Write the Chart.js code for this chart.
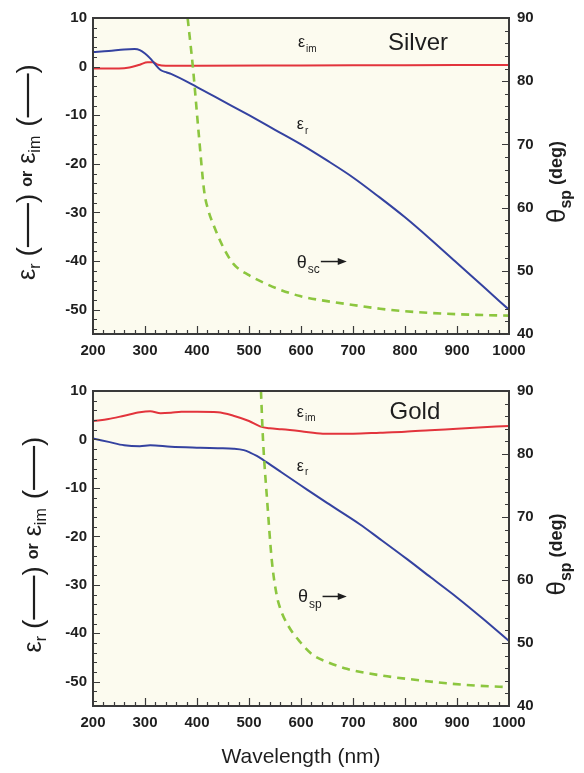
<!DOCTYPE html>
<html>
<head>
<meta charset="utf-8">
<script src="https://cdn.jsdelivr.net/npm/chart.js@4.4.1/dist/chart.umd.min.js"></script>
<style>
  body { margin: 0; background: #fff; }
  canvas { position: absolute; left: 0; }
  #silverChart { top: 0; }
  #goldChart { top: 370px; }
</style>
</head>
<body>
<canvas id="silverChart" width="584" height="370"></canvas>
<canvas id="goldChart" width="584" height="403"></canvas>
<script>
// tick labels
const wlTicks = [200, 300, 400, 500, 600, 700, 800, 900, 1000];
const epsTicks = [10, 0, -10, -20, -30, -40, -50];
const thetaTicks = [40, 50, 60, 70, 80, 90];

// Silver
const silverErWl = [200, 230, 260, 280, 290, 300, 310, 320, 330, 342, 350, 400, 450, 500, 550, 600, 650, 700, 750, 800, 850, 900, 950, 1000];
const silverEr = [3.0, 3.2, 3.5, 3.6, 3.4, 2.7, 1.7, 0.4, -0.7, -1.2, -1.5, -4.2, -7.1, -10.0, -13.0, -16.0, -19.3, -22.8, -26.8, -31.0, -35.6, -40.4, -45.2, -50.0];
const silverEimWl = [200, 250, 270, 290, 305, 315, 325, 340, 400, 600, 800, 1000];
const silverEim = [-0.4, -0.4, -0.2, 0.4, 0.9, 0.9, 0.4, 0.2, 0.2, 0.25, 0.3, 0.35];
const silverThetaWl = [382, 392, 403, 414, 422, 431, 450, 470, 500, 534, 560, 598, 650, 700, 752, 800, 880, 950, 1000];
const silverTheta = [90, 82.3, 72, 62.5, 59.5, 57.4, 53.8, 51.1, 49.3, 47.9, 47, 46, 45.2, 44.6, 44, 43.6, 43.2, 43, 42.9];

// Gold
const goldErWl = [200, 230, 260, 290, 310, 350, 406, 440, 470, 490, 502, 515, 527, 560, 600, 650, 713, 750, 804, 850, 900, 950, 1000];
const goldEr = [0.2, -0.5, -1.2, -1.4, -1.2, -1.5, -1.7, -1.8, -1.9, -2.2, -2.7, -3.4, -4.2, -6.6, -9.5, -13.1, -17.5, -20.4, -24.7, -28.5, -32.6, -37.0, -41.6];
const goldEimWl = [200, 230, 260, 290, 310, 330, 350, 370, 400, 440, 470, 500, 521, 540, 563, 600, 642, 700, 752, 800, 848, 900, 950, 1000];
const goldEim = [3.8, 4.2, 4.9, 5.6, 5.8, 5.4, 5.5, 5.7, 5.7, 5.6, 4.9, 3.8, 2.7, 2.3, 2.1, 1.7, 1.2, 1.2, 1.4, 1.6, 1.9, 2.2, 2.5, 2.8];
const goldThetaWl = [523, 527, 535, 544, 553, 560, 575, 598, 623, 650, 688, 750, 815, 880, 944, 1000];
const goldTheta = [90, 82.2, 72.5, 63, 57.7, 55.5, 52.8, 50.2, 48.1, 47, 45.9, 44.9, 44.2, 43.6, 43.2, 43.0];

const FONT = '"Liberation Sans", Arial, sans-serif';
const INK = '#1e1e1e';
const AXIS = '#3a3a3a';
const RED = '#e2343c';
const BLUE = '#3442a0';
const GREEN = '#8cc63f';

function pts(xs, ys) {
  return xs.map((x, i) => ({ x: x, y: ys[i] }));
}

function drawSubText(ctx, x, y, main, sub, size, subSize, drop) {
  ctx.font = size + 'px ' + FONT;
  ctx.fillText(main, x, y);
  const w = ctx.measureText(main).width;
  ctx.font = subSize + 'px ' + FONT;
  ctx.fillText(sub, x + w + 1, y + drop);
  return w + 1 + ctx.measureText(sub).width;
}

// rotated left title: eps_r (---) or eps_im (---)
function drawLeftTitle(ctx, cx, cy) {
  ctx.save();
  ctx.translate(cx, cy);
  ctx.rotate(-Math.PI / 2);
  ctx.fillStyle = INK;
  ctx.strokeStyle = INK;
  ctx.textBaseline = 'middle';
  ctx.textAlign = 'left';
  const eps = '25px ' + FONT, sub = '16px ' + FONT, or = 'bold 16px ' + FONT, par = '28px ' + FONT;
  const lineLen = 44;
  ctx.font = eps; const we = ctx.measureText('ε').width;
  ctx.font = sub; const wr = ctx.measureText('r').width, wim = ctx.measureText('im').width;
  ctx.font = or; const wor = ctx.measureText('or').width;
  ctx.font = par; const wp = ctx.measureText('(').width;
  const wPar = wp * 2 + lineLen;
  const total = we + wr + 7 + wPar + 7 + wor + 7 + we + wim + 9 + wPar;
  let x = -total / 2;
  function paren() {
    ctx.font = par;
    ctx.fillText('(', x, 0);
    ctx.lineWidth = 2.2;
    ctx.beginPath();
    ctx.moveTo(x + wp, 0);
    ctx.lineTo(x + wp + lineLen, 0);
    ctx.stroke();
    ctx.fillText(')', x + wp + lineLen, 0);
    x += wPar;
  }
  ctx.font = eps; ctx.fillText('ε', x, 0); x += we;
  ctx.font = sub; ctx.fillText('r', x, 8); x += wr + 7;
  paren(); x += 7;
  ctx.font = or; ctx.fillText('or', x, 0); x += wor + 7;
  ctx.font = eps; ctx.fillText('ε', x, 0); x += we;
  ctx.font = sub; ctx.fillText('im', x, 8); x += wim + 9;
  paren();
  ctx.restore();
}

function drawRightTitle(ctx, cx, cy) {
  ctx.save();
  ctx.translate(cx, cy);
  ctx.rotate(-Math.PI / 2);
  ctx.fillStyle = INK;
  ctx.textBaseline = 'middle';
  ctx.textAlign = 'left';
  const th = '26px ' + FONT, sub = 'bold 16px ' + FONT, deg = 'bold 18px ' + FONT;
  ctx.font = th; const wt = ctx.measureText('θ').width;
  ctx.font = sub; const ws = ctx.measureText('sp').width;
  ctx.font = deg; const wd = ctx.measureText(' (deg)').width;
  let x = -(wt + ws + wd) / 2;
  ctx.font = th; ctx.fillText('θ', x, 0); x += wt;
  ctx.font = sub; ctx.fillText('sp', x, 9); x += ws;
  ctx.font = deg; ctx.fillText(' (deg)', x, -1);
  ctx.restore();
}

function framePlugin(opts) {
  return {
    id: 'frame',
    beforeDraw(chart) {
      const a = chart.chartArea, ctx = chart.ctx;
      ctx.save();
      ctx.fillStyle = '#fcfbef';
      ctx.fillRect(a.left, a.top, a.right - a.left, a.bottom - a.top);
      ctx.restore();
    },
    afterDraw(chart) {
      const a = chart.chartArea, ctx = chart.ctx;
      const sx = chart.scales.x, sy = chart.scales.y, sy2 = chart.scales.y2;
      ctx.save();
      ctx.strokeStyle = AXIS;
      ctx.lineWidth = 1.2;
      ctx.beginPath();
      // minor / major ticks pointing inward
      for (let v = -54; v <= 10; v += 2) {
        const y = Math.round(sy.getPixelForValue(v)) + 0.5;
        const len = v % 10 === 0 ? 7 : 4;
        ctx.moveTo(a.left, y); ctx.lineTo(a.left + len, y);
      }
      for (let v = 42; v <= 88; v += 2) {
        const y = Math.round(sy2.getPixelForValue(v)) + 0.5;
        const len = v % 10 === 0 ? 7 : 4;
        ctx.moveTo(a.right, y); ctx.lineTo(a.right - len, y);
      }
      for (let v = 220; v <= 980; v += 20) {
        const x = Math.round(sx.getPixelForValue(v)) + 0.5;
        const len = v % 100 === 0 ? 8 : 4;
        ctx.moveTo(x, a.bottom); ctx.lineTo(x, a.bottom - len);
      }
      ctx.stroke();
      ctx.lineWidth = 2;
      ctx.strokeRect(a.left, a.top, a.right - a.left, a.bottom - a.top);
      ctx.restore();

      // in-plot labels
      ctx.save();
      ctx.fillStyle = INK;
      ctx.textBaseline = 'middle';
      ctx.textAlign = 'left';
      const an = opts.labels;
      drawSubText(ctx, sx.getPixelForValue(an.eim[0]), sy.getPixelForValue(an.eim[1]), 'ε', 'im', 16, 10, 6);
      drawSubText(ctx, sx.getPixelForValue(an.er[0]), sy.getPixelForValue(an.er[1]), 'ε', 'r', 16, 10, 6);
      const tx = sx.getPixelForValue(an.theta[0]), ty = sy.getPixelForValue(an.theta[1]);
      const w = drawSubText(ctx, tx, ty, opts.thetaGlyph, opts.thetaSub, 18, 12, 7);
      const ax = sx.getPixelForValue(an.arrowEnd);
      ctx.strokeStyle = INK;
      ctx.lineWidth = 1.5;
      ctx.beginPath();
      ctx.moveTo(tx + w + 1, ty - 1); ctx.lineTo(ax - 6, ty - 1);
      ctx.stroke();
      ctx.beginPath();
      ctx.moveTo(ax, ty - 1); ctx.lineTo(ax - 9, ty - 4.5); ctx.lineTo(ax - 9, ty + 2.5);
      ctx.closePath(); ctx.fill();
      ctx.font = '24px ' + FONT;
      ctx.textAlign = 'center';
      ctx.fillText(opts.metal, sx.getPixelForValue(an.metal[0]), sy.getPixelForValue(an.metal[1]));
      ctx.restore();

      drawLeftTitle(ctx, opts.leftTitleX, (a.top + a.bottom) / 2 - 4);
      drawRightTitle(ctx, 558, (a.top + a.bottom) / 2 + 6);
      if (opts.xTitle) {
        ctx.save();
        ctx.fillStyle = INK;
        ctx.font = '21px ' + FONT;
        ctx.textAlign = 'center';
        ctx.textBaseline = 'middle';
        ctx.fillText(opts.xTitle, (a.left + a.right) / 2, a.bottom + 51);
        ctx.restore();
      }
    }
  };
}

function makeChart(id, d, opts) {
  const tickFont = { family: FONT, size: 15, weight: 'bold' };
  return new Chart(document.getElementById(id), {
    type: 'line',
    data: {
      datasets: [
        { label: 'theta', data: pts(d.thetaWl, d.theta), yAxisID: 'y2', borderColor: GREEN, borderWidth: 2.6, borderDash: [8, 6] },
        { label: 'eps_r', data: pts(d.erWl, d.er), yAxisID: 'y', borderColor: BLUE, borderWidth: 2 },
        { label: 'eps_im', data: pts(d.eimWl, d.eim), yAxisID: 'y', borderColor: RED, borderWidth: 2 }
      ]
    },
    options: {
      responsive: false,
      animation: false,
      devicePixelRatio: 1,
      layout: { padding: { top: opts.top, left: 0, right: 0, bottom: 0 } },
      elements: { point: { radius: 0 }, line: { cubicInterpolationMode: 'monotone', fill: false } },
      plugins: { legend: { display: false }, tooltip: { enabled: false } },
      scales: {
        x: {
          type: 'linear', min: 200, max: 1000,
          grid: { display: false, drawTicks: false }, border: { display: false },
          ticks: { font: tickFont, color: INK, padding: 8, maxRotation: 0, callback: v => String(v) },
          afterBuildTicks: s => { s.ticks = wlTicks.map(v => ({ value: v })); },
          afterFit: s => { s.height = opts.xHeight; }
        },
        y: {
          position: 'left', min: -55, max: 10,
          grid: { display: false, drawTicks: false }, border: { display: false },
          ticks: { font: tickFont, color: INK, padding: 6, callback: v => String(v) },
          afterBuildTicks: s => { s.ticks = epsTicks.map(v => ({ value: v })); },
          afterFit: s => { s.width = 93; }
        },
        y2: {
          position: 'right', min: 40, max: 90,
          grid: { display: false, drawTicks: false }, border: { display: false },
          ticks: { font: tickFont, color: INK, padding: 8, callback: v => String(v) },
          afterBuildTicks: s => { s.ticks = thetaTicks.map(v => ({ value: v })); },
          afterFit: s => { s.width = 75; }
        }
      }
    },
    plugins: [framePlugin(opts)]
  });
}

makeChart('silverChart',
  { erWl: silverErWl, er: silverEr, eimWl: silverEimWl, eim: silverEim, thetaWl: silverThetaWl, theta: silverTheta },
  { top: 18, xHeight: 36, metal: 'Silver', thetaGlyph: 'θ', thetaSub: 'sc', leftTitleX: 28,
    labels: { eim: [594, 4.9], er: [592, -12.0], theta: [592, -40.3], arrowEnd: 688, metal: [825, 4.7] } });

makeChart('goldChart',
  { erWl: goldErWl, er: goldEr, eimWl: goldEimWl, eim: goldEim, thetaWl: goldThetaWl, theta: goldTheta },
  { top: 21, xHeight: 67, metal: 'Gold', thetaGlyph: 'θ', thetaSub: 'sp', leftTitleX: 34, xTitle: 'Wavelength (nm)',
    labels: { eim: [592, 5.6], er: [592, -5.6], theta: [594, -32.6], arrowEnd: 688, metal: [819, 5.6] } });
</script>
</body>
</html>
